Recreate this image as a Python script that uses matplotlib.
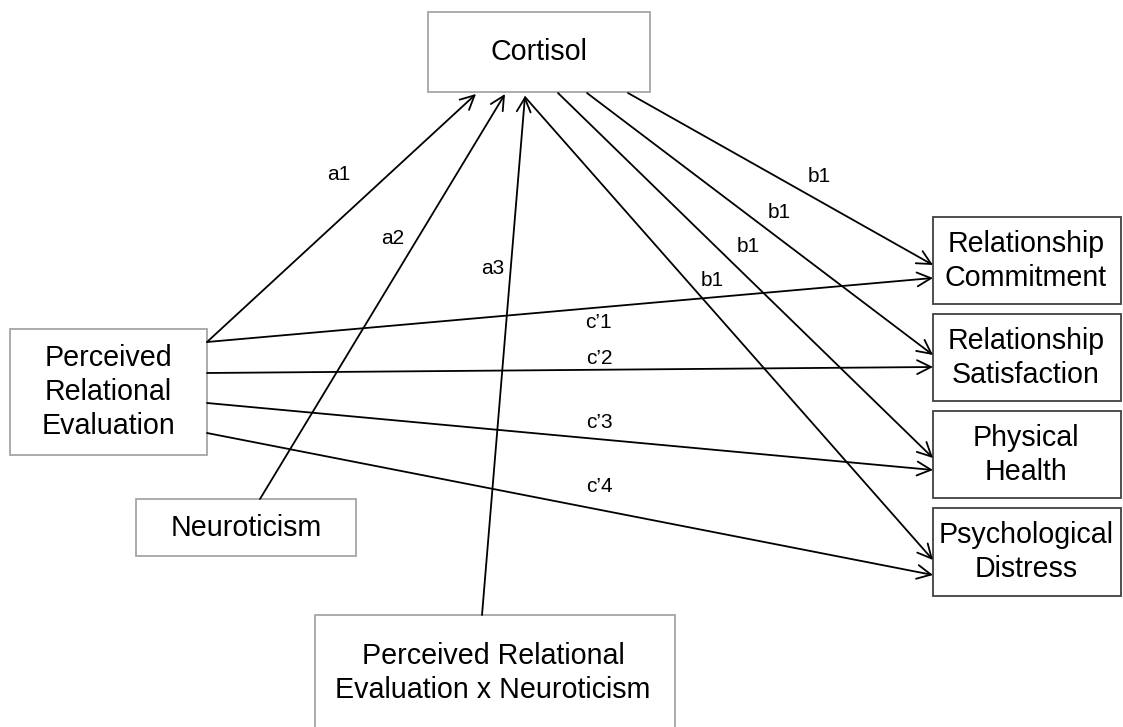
import matplotlib
matplotlib.use("Agg")
import matplotlib.pyplot as plt
from matplotlib.patches import Rectangle, FancyArrowPatch

plt.rcParams['font.family'] = ['Liberation Sans', 'DejaVu Sans']

# boxes: name -> (x0, y0, x1, y1) in pixel units (y grows downwards)
box_names = ["cort", "pre", "neur", "inter", "commit", "satis", "health", "distress"]
box_rects = [(428, 12, 650, 92), (10, 329, 207, 455), (136, 499, 356, 556),
             (315, 615, 675, 740), (933, 217, 1121, 304), (933, 314, 1121, 401),
             (933, 411, 1121, 498), (933, 508, 1121, 596)]
box_texts = ["Cortisol", "Perceived\nRelational\nEvaluation", "Neuroticism",
             "Perceived Relational\nEvaluation x Neuroticism",
             "Relationship\nCommitment", "Relationship\nSatisfaction",
             "Physical\nHealth", "Psychological\nDistress"]
box_text_pos = [(539, 52), (108, 392), (246, 528), (493, 673),
                (1026, 261), (1026, 358), (1026, 455), (1026, 552)]
box_edge = ["#a6a6a6", "#a6a6a6", "#a6a6a6", "#a6a6a6",
            "#404040", "#404040", "#404040", "#404040"]

# paths: (start, end, label, label position)
path_start = [(207, 342), (260, 499), (482, 615),
              (628, 93), (587, 93), (558, 93), (525, 97),
              (207, 342), (207, 373), (207, 403), (207, 433)]
path_end = [(476, 94), (505, 94), (525, 96),
            (933, 265), (933, 355), (933, 458), (933, 560),
            (933, 278), (933, 367), (933, 470), (933, 575)]
path_labels = ["a1", "a2", "a3", "b1", "b1", "b1", "b1", "c\u20191", "c\u20192", "c\u20193", "c\u20194"]
label_pos = [(339, 175), (393, 239), (493, 268),
             (819, 176), (779, 213), (748, 247), (712, 280),
             (598, 322), (599, 358), (599, 423), (599, 486)]

fig = plt.figure(figsize=(11.23, 7.27), dpi=100)
ax = fig.add_axes([0, 0, 1, 1])
ax.set_xlim(0, 1123)
ax.set_ylim(727, 0)
ax.axis('off')

for (x0, y0, x1, y1), txt, (tx, ty), ec in zip(box_rects, box_texts, box_text_pos, box_edge):
    ax.add_patch(Rectangle((x0, y0), x1 - x0, y1 - y0, facecolor='white',
                           edgecolor=ec, linewidth=1.3, zorder=1))
    ax.text(tx, ty, txt, ha='center', va='center', fontsize=20.6,
            linespacing=1.29, color='black', zorder=3)

for (sx, sy), (ex, ey) in zip(path_start, path_end):
    ax.add_patch(FancyArrowPatch((sx, sy), (ex, ey), arrowstyle='->,head_length=10,head_width=5',
                                 mutation_scale=1, color='black', linewidth=1.3,
                                 shrinkA=0, shrinkB=0, zorder=2))

for lab, (lx, ly) in zip(path_labels, label_pos):
    ax.text(lx, ly, lab, ha='center', va='center', fontsize=15, color='black', zorder=3)

fig.savefig("out.png", dpi=100)
